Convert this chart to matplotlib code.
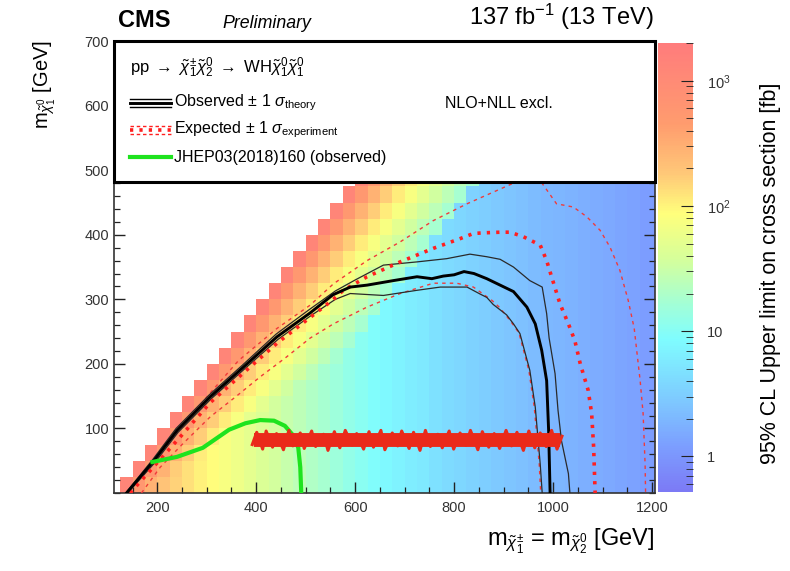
import numpy as np
import matplotlib.pyplot as plt
from matplotlib.colors import LinearSegmentedColormap, LogNorm
from matplotlib.patches import Rectangle
from matplotlib.ticker import MultipleLocator, FixedLocator, LogLocator, NullFormatter

plt.rcParams['font.family'] = ['Liberation Sans', 'DejaVu Sans']
plt.rcParams['mathtext.fontset'] = 'custom'
plt.rcParams['mathtext.rm'] = 'Liberation Sans'
plt.rcParams['mathtext.it'] = 'Liberation Sans:italic'
plt.rcParams['mathtext.bf'] = 'Liberation Sans:bold'

# --- limit map (25 GeV cells) ---
col_left = np.arange(125, 1225, 25)
row_bottom = np.arange(0, 500, 25)
# limit [fb] far from the diagonal, one per column
base_limit = [400, 330, 260, 200, 160, 130, 105, 90, 75, 62, 52, 43, 36, 30, 25,
              21, 18, 15, 12.5, 10.5, 9, 8, 7, 6.2, 5.5, 4.8, 4.2, 3.8, 3.4, 3.1,
              2.8, 2.6, 2.4, 2.2, 2.0, 1.9, 1.8, 1.7, 1.6, 1.5, 1.4, 1.3, 1.2, 1.15]
# limit [fb] on the cells next to the kinematic edge (0 = edge cell)
diag_limit = [1300, 550, 280, 170, 110, 75, 50, 35, 25, 18]

# --- contours ---
obs_x = [138, 193, 240, 307, 374, 442, 509, 555, 590, 624, 677, 725, 755, 778, 800, 820,
         840, 866, 893, 920, 947, 964, 977, 987, 991, 994]
obs_y = [0, 50, 97, 149, 195, 242, 279, 307, 319, 322, 329, 335, 332, 336, 338, 343,
         340, 332, 322, 312, 288, 262, 221, 174, 97, 0]
obs_up_x = [136, 191, 238, 305, 372, 440, 507, 560, 600, 657, 725, 785, 832, 866, 893,
            920, 953, 978, 987, 992, 1004, 1010, 1017, 1031, 1034]
obs_up_y = [0, 52, 100, 152, 198, 246, 284, 313, 330, 353, 358, 363, 370, 366, 362,
            350, 329, 319, 278, 240, 185, 128, 81, 30, 0]
obs_dn_x = [140, 195, 242, 309, 376, 444, 511, 560, 590, 657, 725, 772, 826, 853, 866,
            879, 906, 920, 933, 953, 964, 974, 978]
obs_dn_y = [0, 47, 94, 146, 192, 238, 275, 300, 309, 306, 314, 319, 319, 308, 303,
            292, 276, 262, 247, 190, 133, 45, 0]
exp_x = [145, 200, 250, 307, 374, 442, 509, 556, 576, 624, 691, 758, 812, 839, 859, 893,
         913, 940, 974, 987, 997, 1014, 1031, 1044, 1055, 1071, 1078, 1082, 1085]
exp_y = [0, 47, 90, 140, 186, 232, 272, 300, 314, 335, 358, 379, 394, 402, 403, 404,
         404, 397, 384, 360, 335, 293, 262, 236, 200, 159, 123, 71, 0]
exp_up_x = [140, 195, 245, 307, 364, 442, 509, 556, 624, 691, 758, 826, 873, 920, 945,
            970, 985, 1007, 1041, 1068, 1095, 1115, 1135, 1152, 1164, 1176, 1182, 1186, 1187]
exp_up_y = [0, 52, 98, 155, 205, 255, 291, 324, 360, 389, 422, 448, 464, 480, 492,
            488, 472, 448, 443, 428, 407, 381, 345, 298, 255, 174, 123, 45, 0]
exp_dn_x = [168, 206, 250, 307, 360, 408, 460, 509, 556, 624, 691, 758, 805, 839, 877,
            891, 904, 918, 931, 951, 962, 972, 975]
exp_dn_y = [0, 40, 75, 118, 150, 180, 210, 240, 262, 288, 309, 325, 325, 319, 298,
            288, 276, 262, 248, 190, 133, 45, 0]
old_x = [190, 240, 292, 345, 378, 408, 436, 458, 476, 485, 489, 491]
old_y = [48, 56, 70, 98, 108, 113, 112, 104, 88, 70, 40, 0]

# red scribble across the plot
scrib_x = [392, 401, 413, 420, 433, 441, 455, 466, 474, 489, 497, 512, 520, 536, 545, 558,
           569, 580, 594, 603, 617, 628, 637, 652, 660, 675, 686, 694, 709, 718, 731, 742,
           752, 767, 776, 790, 799, 812, 824, 833, 848, 857, 870, 881, 892, 905, 916, 927,
           940, 951, 963, 974, 986, 997, 1008, 1018]
scrib_y = [75, 94, 68, 96, 71, 92, 67, 97, 73, 93, 69, 96, 72, 91, 66, 95, 70, 97, 74, 92,
           68, 95, 71, 97, 67, 93, 73, 96, 69, 94, 66, 97, 72, 91, 70, 96, 68, 93, 74, 97,
           67, 95, 71, 92, 69, 97, 73, 94, 66, 96, 70, 93, 72, 97, 68, 88]

fig = plt.figure(figsize=(7.9, 5.71), dpi=100)
ax = fig.add_axes([0.1443, 0.1366, 0.6848, 0.7914])
cax = fig.add_axes([0.833, 0.1383, 0.0443, 0.7864])

cmap = LinearSegmentedColormap.from_list('pastel', [
    (0.0, '#7c7af5'), (0.10, '#7c9eff'), (0.20, '#7ec8ff'), (0.34, '#7ffdff'),
    (0.43, '#a8ffd0'), (0.52, '#d6ff9a'), (0.62, '#ffff7c'), (0.71, '#ffc878'),
    (0.82, '#ff9c6e'), (1.0, '#ff7c7c')])
norm = LogNorm(vmin=0.52, vmax=2000)

z = np.full((len(row_bottom), len(col_left)), np.nan)
for i, xl in enumerate(col_left):
    for j, yb in enumerate(row_bottom):
        d = (xl - 100 - (yb + 25)) // 25
        if d < 0:
            continue
        dv = diag_limit[d] if d < len(diag_limit) else 0
        z[j, i] = max(base_limit[i], dv)
z = np.ma.masked_invalid(z)
x_edges = np.append(col_left, col_left[-1] + 25)
y_edges = np.append(row_bottom, row_bottom[-1] + 25)
mesh = ax.pcolormesh(x_edges, y_edges, z, cmap=cmap, norm=norm, shading='flat', zorder=1)

# contours
thin_red = (0, (2.5, 3))
thick_red = (0, (0.9, 1.7))
ax.plot(exp_up_x, exp_up_y, color='#f03a3a', lw=1.0, ls=thin_red, zorder=3)
ax.plot(exp_dn_x, exp_dn_y, color='#f03a3a', lw=1.0, ls=thin_red, zorder=3)
ax.plot(obs_up_x, obs_up_y, color='#2a2a2a', lw=0.9, zorder=3)
ax.plot(obs_dn_x, obs_dn_y, color='#2a2a2a', lw=0.9, zorder=3)
ax.plot(exp_x, exp_y, color='#ff1f1f', lw=2.6, ls=thick_red, zorder=3)
ax.plot(obs_x, obs_y, color='black', lw=2.1, zorder=4)
ax.plot(old_x, old_y, color='#1ee31e', lw=3.0, zorder=4)
ax.plot([scrib_x[0] + 4, scrib_x[-1] - 4], [82, 82], color='#ea2a1a', lw=10,
        solid_capstyle='butt', zorder=4)
ax.plot(scrib_x, scrib_y, color='#ea2a1a', lw=2.2, zorder=4)

ax.set_xlim(112.5, 1206)
ax.set_ylim(0, 700)
ax.xaxis.set_major_locator(FixedLocator([200, 400, 600, 800, 1000, 1200]))
ax.xaxis.set_minor_locator(MultipleLocator(50))
ax.yaxis.set_major_locator(FixedLocator([100, 200, 300, 400, 500, 600, 700]))
ax.yaxis.set_minor_locator(MultipleLocator(20))
ax.tick_params(which='both', direction='in', top=True, right=True, colors='#222222',
               labelcolor='#333333', labelsize=10.5)
ax.tick_params(which='major', length=8, width=1)
ax.tick_params(which='minor', length=4.5, width=0.9)
ax.tick_params(axis='x', pad=6)
for s in ax.spines.values():
    s.set_linewidth(1.2)
    s.set_color('#333333')

# legend box
ax.add_patch(Rectangle((0, 0.688), 1, 0.312, transform=ax.transAxes, facecolor='white',
                       edgecolor='black', lw=2.2, zorder=6, clip_on=False))
tkw = dict(transform=ax.transAxes, zorder=8, clip_on=False)
ax.text(0.03, 0.94, r'pp $\rightarrow$ $\tilde{\chi}^{\pm}_{1}\tilde{\chi}^{0}_{2}$ $\rightarrow$ '
        r'WH$\tilde{\chi}^{0}_{1}\tilde{\chi}^{0}_{1}$', fontsize=12, va='center', **tkw)
for dy, lw in [(0.009, 1.0), (0.0, 2.1), (-0.009, 1.0)]:
    ax.plot([0.03, 0.105], [0.863 + dy] * 2, color='black', lw=lw, **tkw)
    ax.plot([0.03, 0.105], [0.803 + dy] * 2, color='#ff1f1f',
            lw=2.6 if lw > 2 else 1.0, ls=thick_red if lw > 2 else (0, (2.5, 2)), **tkw)
ax.plot([0.03, 0.105], [0.743, 0.743], color='#1ee31e', lw=3.0, **tkw)
ax.text(0.11, 0.863, r'Observed $\pm$ 1 $\sigma_{\mathrm{theory}}$', fontsize=11.5,
        va='center', **tkw)
ax.text(0.11, 0.803, r'Expected $\pm$ 1 $\sigma_{\mathrm{experiment}}$', fontsize=11.5,
        va='center', **tkw)
ax.text(0.11, 0.743, 'JHEP03(2018)160 (observed)', fontsize=11.5, va='center', **tkw)
ax.text(0.612, 0.863, 'NLO+NLL excl.', fontsize=11.5, va='center', **tkw)

# colorbar
cb = fig.colorbar(mesh, cax=cax)
cb.outline.set_visible(False)
cax.yaxis.set_major_locator(FixedLocator([1, 10, 100, 1000]))
cax.yaxis.set_minor_locator(LogLocator(base=10, subs=np.arange(2, 10)))
cax.yaxis.set_minor_formatter(NullFormatter())
cax.set_yticklabels(['1', '10', r'10$^{2}$', r'10$^{3}$'])
cax.tick_params(which='both', direction='in', colors='#222222', labelcolor='#333333',
                labelsize=10.5, pad=10)
cax.tick_params(which='major', length=9)
cax.tick_params(which='minor', length=5)
fig.text(0.975, 0.522, '95% CL Upper limit on cross section [fb]', rotation=90,
         ha='center', va='center', fontsize=15.5)

# axis titles
fig.text(0.057, 0.93, r'm$_{\tilde{\chi}^{0}_{1}}$ [GeV]', rotation=90, ha='center',
         va='top', fontsize=14.5)
fig.text(0.829, 0.052, r'm$_{\tilde{\chi}^{\pm}_{1}}$ = m$_{\tilde{\chi}^{0}_{2}}$ [GeV]',
         ha='right', va='center', fontsize=17)

# header
fig.text(0.149, 0.944, 'CMS', fontsize=17, fontweight='bold', ha='left', va='bottom')
fig.text(0.281, 0.944, 'Preliminary', fontsize=12.8, style='italic', ha='left', va='bottom')
fig.text(0.827, 0.944, r'137 fb$^{-1}$ (13 TeV)', fontsize=17, ha='right', va='bottom')

fig.savefig('out.png', dpi=100)
